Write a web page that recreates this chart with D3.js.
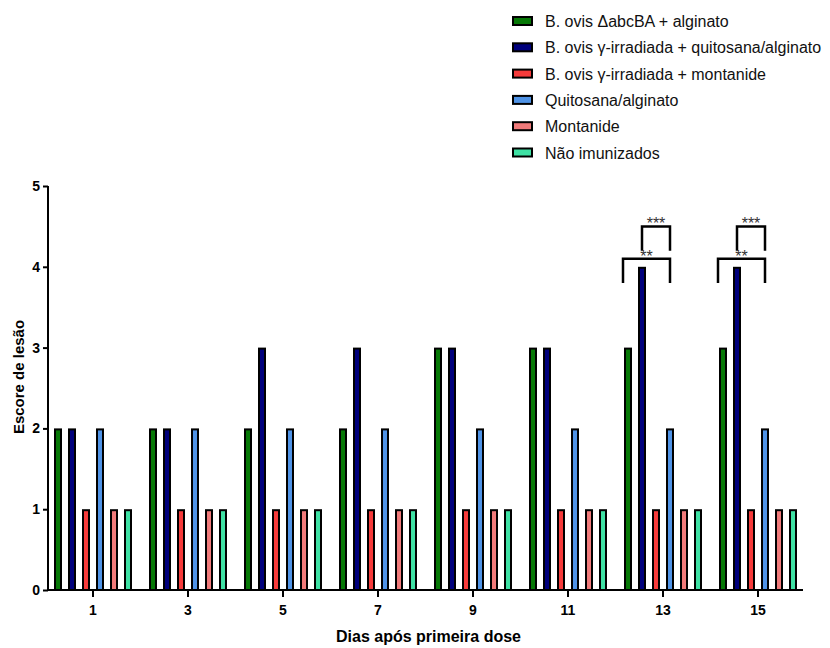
<!DOCTYPE html>
<html>
<head>
<meta charset="utf-8">
<script src="https://cdn.jsdelivr.net/npm/d3@7/dist/d3.min.js"></script>
<style>
  body { margin: 0; background: #fff; }
  svg { display: block; font-family: "Liberation Sans", Arial, sans-serif; }
</style>
</head>
<body>
<svg id="chart" width="830" height="648"></svg>
<script>
// Days after first dose (x categories)
const days = [1, 3, 5, 7, 9, 11, 13, 15];

// Groups (series) and their colours
const groups = [
  "B. ovis ΔabcBA + alginato",
  "B. ovis γ-irradiada + quitosana/alginato",
  "B. ovis γ-irradiada + montanide",
  "Quitosana/alginato",
  "Montanide",
  "Não imunizados"
];
const colors = ["#067806", "#00007c", "#f63b3b", "#4f93e6", "#f07a7a", "#3fe1a4"];

// Lesion scores per group, one value per day
const deltaAlginato   = [2, 2, 2, 2, 3, 3, 3, 3];
const irradQuitosana  = [2, 2, 3, 3, 3, 3, 4, 4];
const irradMontanide  = [1, 1, 1, 1, 1, 1, 1, 1];
const quitosana       = [2, 2, 2, 2, 2, 2, 2, 2];
const montanide       = [1, 1, 1, 1, 1, 1, 1, 1];
const naoImunizados   = [1, 1, 1, 1, 1, 1, 1, 1];
const seriesValues = [deltaAlginato, irradQuitosana, irradMontanide, quitosana, montanide, naoImunizados];

const yTicks = [0, 1, 2, 3, 4, 5];

// Significance brackets: day, left group, right group, label, level (score units)
const sigDays   = [13, 13, 15, 15];
const sigFrom   = [0, 1, 0, 1];
const sigTo     = [3, 3, 3, 3];
const sigLabels = ["**", "***", "**", "***"];
const sigLevels = [4.1, 4.5, 4.1, 4.5];

const svg = d3.select("#chart");
const margin = { left: 48, right: 27, top: 186, bottom: 58 };
const W = 830, H = 648;
const FONT = "Liberation Sans, Arial, sans-serif";

const x0 = d3.scaleBand()
  .domain(days)
  .range([45.5, 805.5])
  .paddingInner(0)
  .paddingOuter(0);

const groupWidth = 78;
const x1 = d3.scaleBand()
  .domain(d3.range(groups.length))
  .range([0, groupWidth])
  .paddingInner(6 / 14)
  .paddingOuter(0);

const y = d3.scaleLinear().domain([0, 5]).range([590, 186]);

const barOffset = x0.bandwidth() / 2 - groupWidth / 2;

// Bars
const table = days.map((d, i) => ({ day: d, values: seriesValues.map(s => s[i]) }));
const gGroups = svg.append("g").selectAll("g")
  .data(table).join("g")
  .attr("transform", d => `translate(${x0(d.day) + barOffset},0)`);

const sw = 2;
gGroups.selectAll("rect")
  .data(d => d.values.map((v, k) => ({ k, v })))
  .join("rect")
  .attr("x", d => x1(d.k) + sw / 2)
  .attr("width", x1.bandwidth() - sw)
  .attr("y", d => y(d.v) + sw / 2)
  .attr("height", d => y(0) - y(d.v) - sw / 2)
  .attr("fill", d => colors[d.k])
  .attr("stroke", "#000")
  .attr("stroke-width", sw);

// Y axis
const yAxis = svg.append("g")
  .attr("transform", `translate(${margin.left},0)`)
  .call(d3.axisLeft(y).tickValues(yTicks).tickFormat(d3.format("d"))
    .tickSize(5).tickSizeOuter(0).tickPadding(3));
yAxis.select(".domain").attr("stroke-width", 2).attr("d", `M0,${y(5)}V${y(0)}`);
yAxis.selectAll(".tick line").attr("stroke-width", 2);
yAxis.selectAll(".tick text").attr("font-size", 14).attr("font-weight", "bold")
  .attr("font-family", FONT).attr("fill", "#000");

// X axis
const xAxis = svg.append("g")
  .attr("transform", `translate(0,${y(0)})`)
  .call(d3.axisBottom(x0).tickSize(7).tickSizeOuter(0).tickPadding(8));
xAxis.select(".domain").attr("stroke-width", 2).attr("d", `M${margin.left - 1},0H${W - margin.right}`);
xAxis.selectAll(".tick line").attr("stroke-width", 2);
xAxis.selectAll(".tick text").attr("font-size", 14).attr("font-weight", "bold")
  .attr("font-family", FONT).attr("fill", "#000");

// Axis titles
svg.append("text")
  .attr("x", (margin.left + W - margin.right) / 2 + 3)
  .attr("y", 642)
  .attr("text-anchor", "middle")
  .attr("font-size", 16).attr("font-weight", "bold")
  .text("Dias após primeira dose");

svg.append("text")
  .attr("transform", "translate(24,377) rotate(-90)")
  .attr("text-anchor", "middle")
  .attr("font-size", 15).attr("font-weight", "bold")
  .text("Escore de lesão");

// Significance brackets
const barCenter = (day, k) => x0(day) + barOffset + x1(k) + x1.bandwidth() / 2;
const legDrop = 0.3;
sigDays.forEach((day, i) => {
  const xa = barCenter(day, sigFrom[i]) - (sigFrom[i] === 0 ? 5 : 0);
  const xb = barCenter(day, sigTo[i]);
  const yt = y(sigLevels[i]);
  const yb = y(sigLevels[i] - legDrop);
  svg.append("path")
    .attr("d", `M${xa},${yb}V${yt}H${xb}V${yb}`)
    .attr("fill", "none").attr("stroke", "#000").attr("stroke-width", 2.5);
  svg.append("text")
    .attr("x", (xa + xb) / 2)
    .attr("y", yt + 3)
    .attr("text-anchor", "middle")
    .attr("font-size", 16).attr("fill", "#333")
    .text(sigLabels[i]);
});

// Legend
const legend = svg.append("g").attr("transform", "translate(512,21)");
const rowH = 26.3;
groups.forEach((g, i) => {
  const row = legend.append("g").attr("transform", `translate(0,${i * rowH})`);
  row.append("rect")
    .attr("x", 1).attr("y", -4).attr("width", 19).attr("height", 8)
    .attr("fill", colors[i]).attr("stroke", "#000").attr("stroke-width", 2);
  row.append("text")
    .attr("x", 33).attr("y", 6)
    .attr("font-size", 16).attr("fill", "#111")
    .text(g);
});
</script>
</body>
</html>
